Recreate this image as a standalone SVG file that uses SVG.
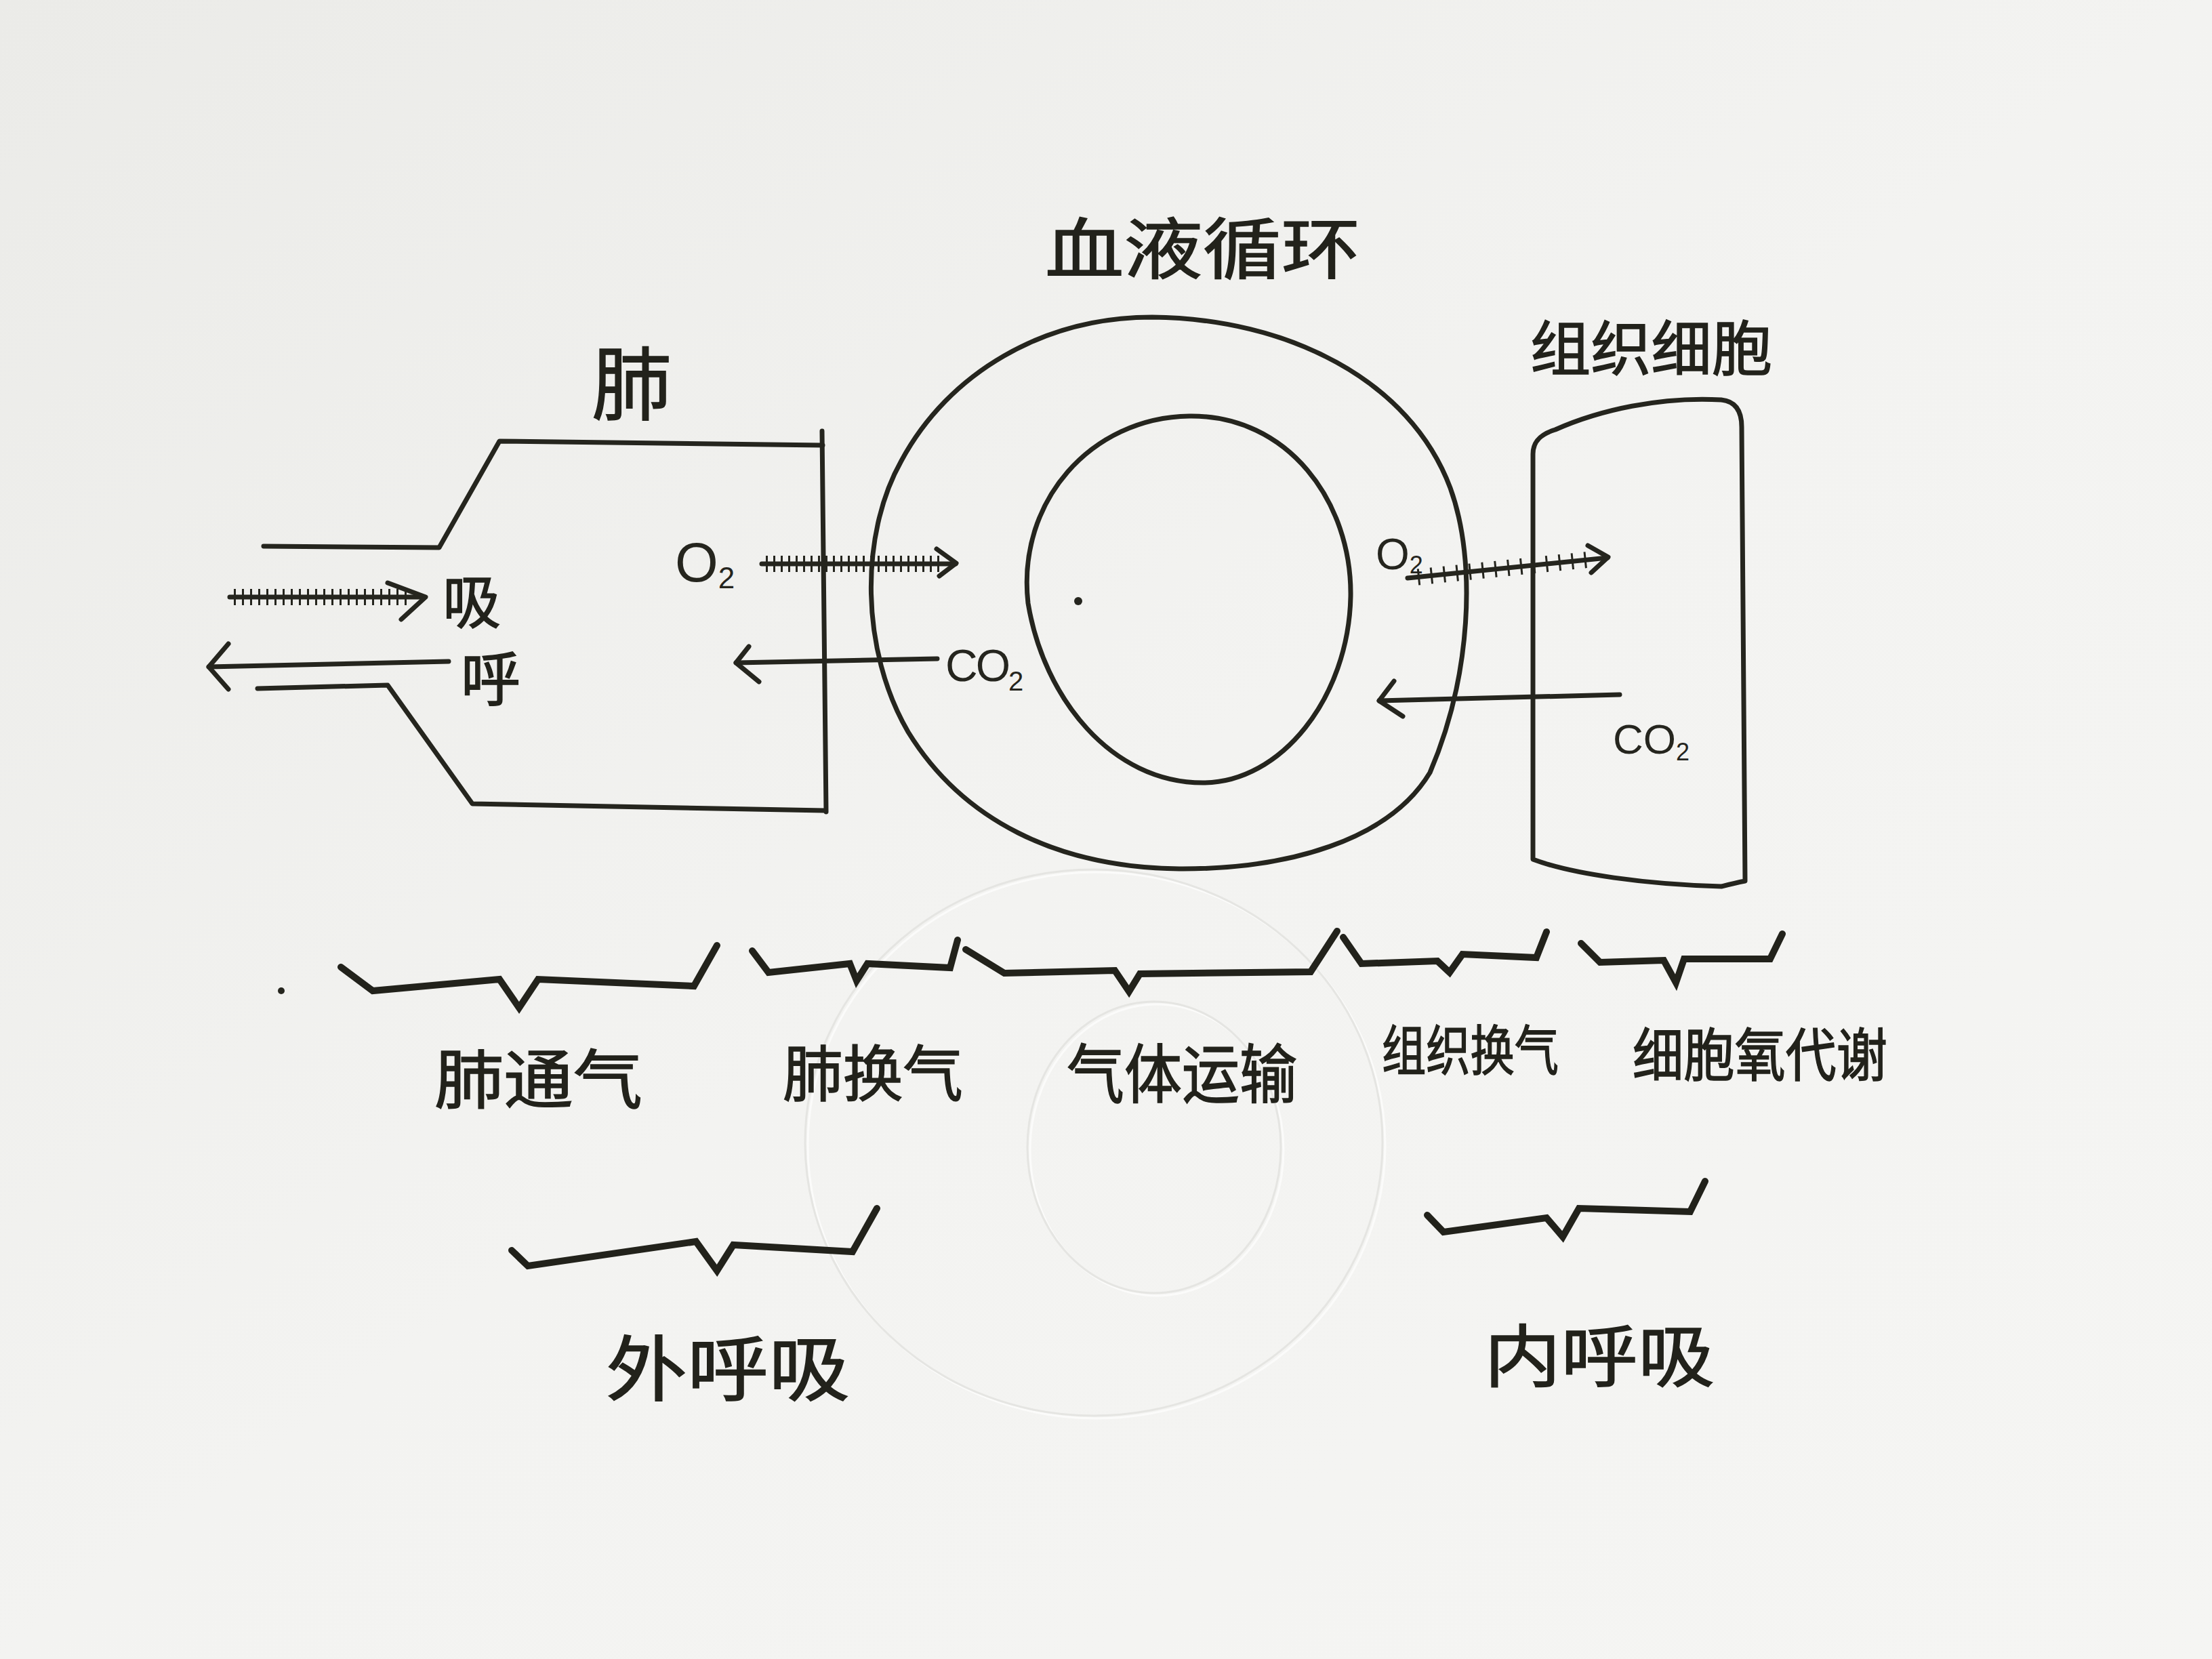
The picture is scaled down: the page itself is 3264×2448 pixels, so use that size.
<svg xmlns="http://www.w3.org/2000/svg" width="3264" height="2448" viewBox="0 0 3264 2448">
  <defs>
    <linearGradient id="paper" x1="0" y1="0" x2="1" y2="1">
      <stop offset="0" stop-color="#ebebe8"/>
      <stop offset="0.5" stop-color="#f3f3f1"/>
      <stop offset="1" stop-color="#f5f5f3"/>
    </linearGradient>
  </defs>
  <style>
    .ink { fill: none; stroke: #25251e; stroke-width: 7; stroke-linecap: round; stroke-linejoin: round; }
    .brace { fill: none; stroke: #22221b; stroke-width: 10; stroke-linecap: round; stroke-linejoin: miter; stroke-miterlimit: 10; }
    .tick { fill: none; stroke: #25251e; stroke-width: 24; }
    .cjk { font-family: "Noto Sans CJK SC", "Noto Sans CJK TC", sans-serif; fill: #22221b; stroke: #22221b; stroke-width: 1.5; }
    .lat { font-family: "Liberation Sans", Arial, sans-serif; fill: #25251e; }
    .emboss { fill: none; stroke: #e5e5e2; stroke-width: 3; }
    .emboss-hi { fill: none; stroke: #fbfbfa; stroke-width: 3; }
  </style>

  <rect x="0" y="0" width="3264" height="2448" fill="url(#paper)"/>

  <!-- faint embossed impression in the paper -->
  <g id="emboss">
    <ellipse class="emboss-hi" cx="1618" cy="1690" rx="426" ry="403"/>
    <ellipse class="emboss" cx="1614" cy="1686" rx="426" ry="403"/>
    <ellipse class="emboss-hi" cx="1707" cy="1697" rx="187" ry="215"/>
    <ellipse class="emboss" cx="1703" cy="1693" rx="187" ry="215"/>
  </g>

  <!-- Lung -->
  <g id="node-lung">
    <path class="ink" d="M389,806 L648,808 L737,651 L1214,657"/>
    <path class="ink" d="M1213,636 L1219,1198"/>
    <path class="ink" d="M380,1016 L572,1011 L697,1186 L1216,1196"/>
    <text class="cjk" x="873" y="610" font-size="118">肺</text>
  </g>

  <!-- Blood circulation -->
  <g id="node-blood">
    <path class="ink" d="M1700,468 C1900,470 2080,560 2140,720 C2180,830 2170,1000 2110,1140 C2050,1240 1900,1283 1740,1282 C1560,1280 1420,1210 1340,1080 C1270,960 1268,790 1330,680 C1400,550 1540,468 1700,468 Z"/>
    <path class="ink" d="M1755,614 C1900,612 1995,740 1993,880 C1990,1030 1890,1155 1775,1155 C1640,1155 1540,1030 1517,890 C1500,740 1610,616 1755,614 Z"/>
    <circle cx="1591" cy="887" r="6" fill="#25251e"/>
    <text class="cjk" x="1542" y="403" font-size="98" textLength="465" lengthAdjust="spacingAndGlyphs">血液循环</text>
  </g>

  <!-- Tissue cells -->
  <g id="node-tissue">
    <path class="ink" d="M2262,1268 L2262,670 C2262,650 2275,640 2295,634 C2360,605 2450,585 2540,590 C2560,592 2570,605 2570,630 L2575,1300 C2560,1303 2548,1306 2540,1308 C2430,1305 2320,1290 2262,1268 Z"/>
    <text class="cjk" x="2258" y="546" font-size="88" textLength="357" lengthAdjust="spacingAndGlyphs">组织细胞</text>
  </g>

  <!-- Connectors: gas flow arrows -->
  <g id="connectors">
    <!-- inhale (hatched) -->
    <g id="arrow-inhale">
      <line class="ink" x1="339" y1="881" x2="626" y2="881"/>
      <line class="tick" x1="345" y1="881" x2="600" y2="881" stroke-dasharray="3 9"/>
      <polyline class="ink" points="572,860 628,881 592,914"/>
    </g>
    <!-- exhale -->
    <g id="arrow-exhale">
      <line class="ink" x1="662" y1="976" x2="308" y2="984"/>
      <polyline class="ink" points="337,950 308,984 337,1017"/>
    </g>
    <!-- O2 lung -> blood (hatched) -->
    <g id="arrow-o2-lung">
      <line class="ink" x1="1124" y1="832" x2="1410" y2="832"/>
      <line class="tick" x1="1130" y1="832" x2="1390" y2="832" stroke-dasharray="3 8"/>
      <polyline class="ink" points="1382,810 1411,831 1386,850"/>
    </g>
    <!-- CO2 blood -> lung -->
    <g id="arrow-co2-lung">
      <line class="ink" x1="1383" y1="972" x2="1086" y2="978"/>
      <polyline class="ink" points="1105,954 1086,978 1120,1006"/>
    </g>
    <!-- O2 blood -> tissue (hatched) -->
    <g id="arrow-o2-tissue">
      <line class="ink" x1="2077" y1="853" x2="2372" y2="823"/>
      <line class="tick" x1="2092" y1="851.5" x2="2352" y2="825" stroke-dasharray="3 16"/>
      <polyline class="ink" points="2343,805 2373,822 2348,845"/>
    </g>
    <!-- CO2 tissue -> blood -->
    <g id="arrow-co2-tissue">
      <line class="ink" x1="2390" y1="1025" x2="2035" y2="1034"/>
      <polyline class="ink" points="2057,1005 2035,1034 2070,1057"/>
    </g>
  </g>

  <!-- Flow labels -->
  <g id="flow-labels">
    <text class="cjk" x="653" y="920" font-size="86">吸</text>
    <text class="cjk" x="680" y="1034" font-size="88">呼</text>
    <text class="lat" x="996" y="858" font-size="82">O<tspan font-size="44" dy="10">2</tspan></text>
    <text class="lat" x="1395" y="1005" font-size="66" letter-spacing="-3">CO<tspan font-size="40" dy="14">2</tspan></text>
    <text class="lat" x="2030" y="840" font-size="64">O<tspan font-size="36" dy="6">2</tspan></text>
    <text class="lat" x="2380" y="1112" font-size="62">CO<tspan font-size="36" dy="10">2</tspan></text>
  </g>

  <!-- Stage braces -->
  <g id="braces">
    <path class="brace" d="M503,1427 L550,1462 L737,1445 L766,1487 L794,1445 L1024,1455 L1058,1395"/>
    <path class="brace" d="M1110,1403 L1134,1435 L1254,1422 L1264,1447 L1280,1422 L1402,1428 L1413,1387"/>
    <path class="brace" d="M1425,1401 L1482,1436 L1645,1432 L1666,1463 L1682,1437 L1934,1434 L1973,1374"/>
    <path class="brace" d="M1982,1383 L2009,1422 L2121,1418 L2139,1435 L2158,1408 L2267,1413 L2282,1375"/>
    <path class="brace" d="M2333,1392 L2361,1420 L2455,1417 L2473,1450 L2485,1415 L2612,1415 L2630,1378"/>
    <path class="brace" d="M755,1845 L779,1868 L1027,1832 L1058,1875 L1082,1837 L1258,1847 L1294,1783"/>
    <path class="brace" d="M2106,1793 L2130,1818 L2282,1797 L2306,1825 L2330,1783 L2494,1788 L2516,1743"/>
  </g>

  <!-- Stage labels -->
  <g id="node-stages">
    <text id="stage-1" class="cjk" x="641" y="1628" font-size="95" textLength="307" lengthAdjust="spacingAndGlyphs">肺通气</text>
    <text id="stage-2" class="cjk" x="1155" y="1617" font-size="90" textLength="266" lengthAdjust="spacingAndGlyphs">肺换气</text>
    <text id="stage-3" class="cjk" x="1574" y="1620" font-size="95" textLength="340" lengthAdjust="spacingAndGlyphs">气体运输</text>
    <text id="stage-4" class="cjk" x="2039" y="1579" font-size="80" textLength="261" lengthAdjust="spacingAndGlyphs">组织换气</text>
    <text id="stage-5" class="cjk" x="2409" y="1588" font-size="85" textLength="376" lengthAdjust="spacingAndGlyphs">细胞氧代谢</text>
    <text id="group-ext" class="cjk" x="894" y="2058" font-size="105" textLength="360" lengthAdjust="spacingAndGlyphs">外呼吸</text>
    <text id="group-int" class="cjk" x="2190" y="2038" font-size="100" textLength="340" lengthAdjust="spacingAndGlyphs">内呼吸</text>
  </g>

  <circle cx="415" cy="1462" r="5" fill="#25251e"/>
</svg>
